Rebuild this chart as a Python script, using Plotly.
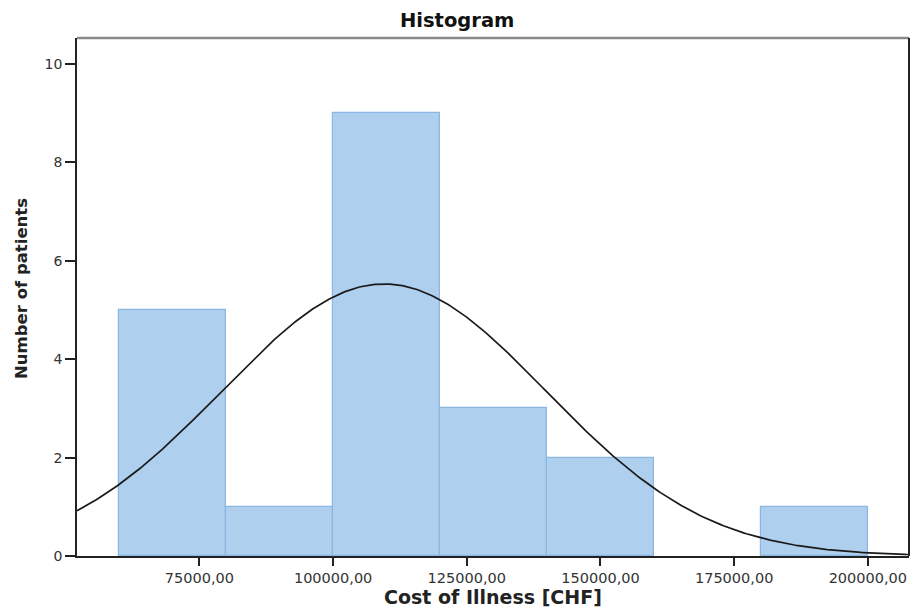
import numpy as np
import plotly.graph_objects as go

# Histogram bins (CHF) and patient counts
bin_left = [60000, 80000, 100000, 120000, 140000, 160000, 180000]
counts = [5, 1, 9, 3, 2, 0, 1]
bin_width = 20000

# Fitted normal curve parameters
mean_cost = 109500
sd_cost = 30300
n_patients = sum(counts)

tick_vals = [75000, 100000, 125000, 150000, 175000, 200000]
tick_text = ["75000,00", "100000,00", "125000,00", "150000,00", "175000,00", "200000,00"]
y_ticks = [0, 2, 4, 6, 8, 10]

x_range = [52100, 207700]
y_range = [0, 10.53]

centers = [b + bin_width / 2 for b in bin_left]
# empty bins get no outline
outline_widths = [1.2 if c > 0 else 0 for c in counts]

xs = np.linspace(x_range[0], x_range[1], 400)
ys = n_patients * bin_width / (sd_cost * np.sqrt(2 * np.pi)) * np.exp(-0.5 * ((xs - mean_cost) / sd_cost) ** 2)

fig = go.Figure()
fig.add_trace(go.Bar(
    x=centers, y=counts, width=bin_width,
    marker=dict(color="#aecfee", line=dict(color="#8bb7e2", width=outline_widths)),
    hoverinfo="skip",
))
fig.add_trace(go.Scatter(
    x=xs, y=ys, mode="lines",
    line=dict(color="#1a1a1a", width=1.7),
    hoverinfo="skip",
))

font_family = "DejaVu Sans, Verdana, sans-serif"

fig.update_layout(
    width=910, height=610,
    margin=dict(l=77, r=1, t=38, b=54),
    paper_bgcolor="white", plot_bgcolor="white",
    showlegend=False,
    bargap=0,
    xaxis=dict(
        range=x_range, tickvals=tick_vals, ticktext=tick_text,
        ticks="outside", ticklen=8, tickwidth=1.5, tickcolor="#222",
        showline=True, linecolor="#222", linewidth=1.5,
        showgrid=False, zeroline=False, automargin=False,
        tickfont=dict(family=font_family, size=14.5, color="#333"),
    ),
    yaxis=dict(
        range=y_range, tickvals=y_ticks,
        ticks="outside", ticklen=10, tickwidth=1.5, tickcolor="#222",
        showline=True, linecolor="#222", linewidth=1.5,
        showgrid=False, zeroline=False, automargin=False,
        tickfont=dict(family=font_family, size=14, color="#333"),
    ),
    annotations=[
        dict(text="<b>Histogram</b>", xref="paper", yref="paper",
             x=(457 - 77) / 832, y=1 + (38 - 21) / 518, xanchor="center", yanchor="middle",
             showarrow=False, font=dict(family=font_family, size=19.5, color="#111")),
        dict(text="<b>Cost of Illness [CHF]</b>", xref="paper", yref="paper",
             x=0.5, y=-(597 - 556) / 518, xanchor="center", yanchor="middle",
             showarrow=False, font=dict(family=font_family, size=19, color="#222")),
        dict(text="<b>Number of patients</b>", xref="paper", yref="paper",
             x=-(77 - 21) / 832, y=(556 - 289) / 518, xanchor="center", yanchor="middle",
             textangle=-90, showarrow=False,
             font=dict(family=font_family, size=16.5, color="#222")),
    ],
    shapes=[
        dict(type="line", xref="paper", yref="paper", x0=0, x1=1, y0=1, y1=1,
             line=dict(color="#8a8a8a", width=2.5)),
        dict(type="line", xref="paper", yref="paper", x0=1, x1=1, y0=0, y1=1,
             line=dict(color="#222", width=2)),
    ],
)

fig.write_html("out.html")
